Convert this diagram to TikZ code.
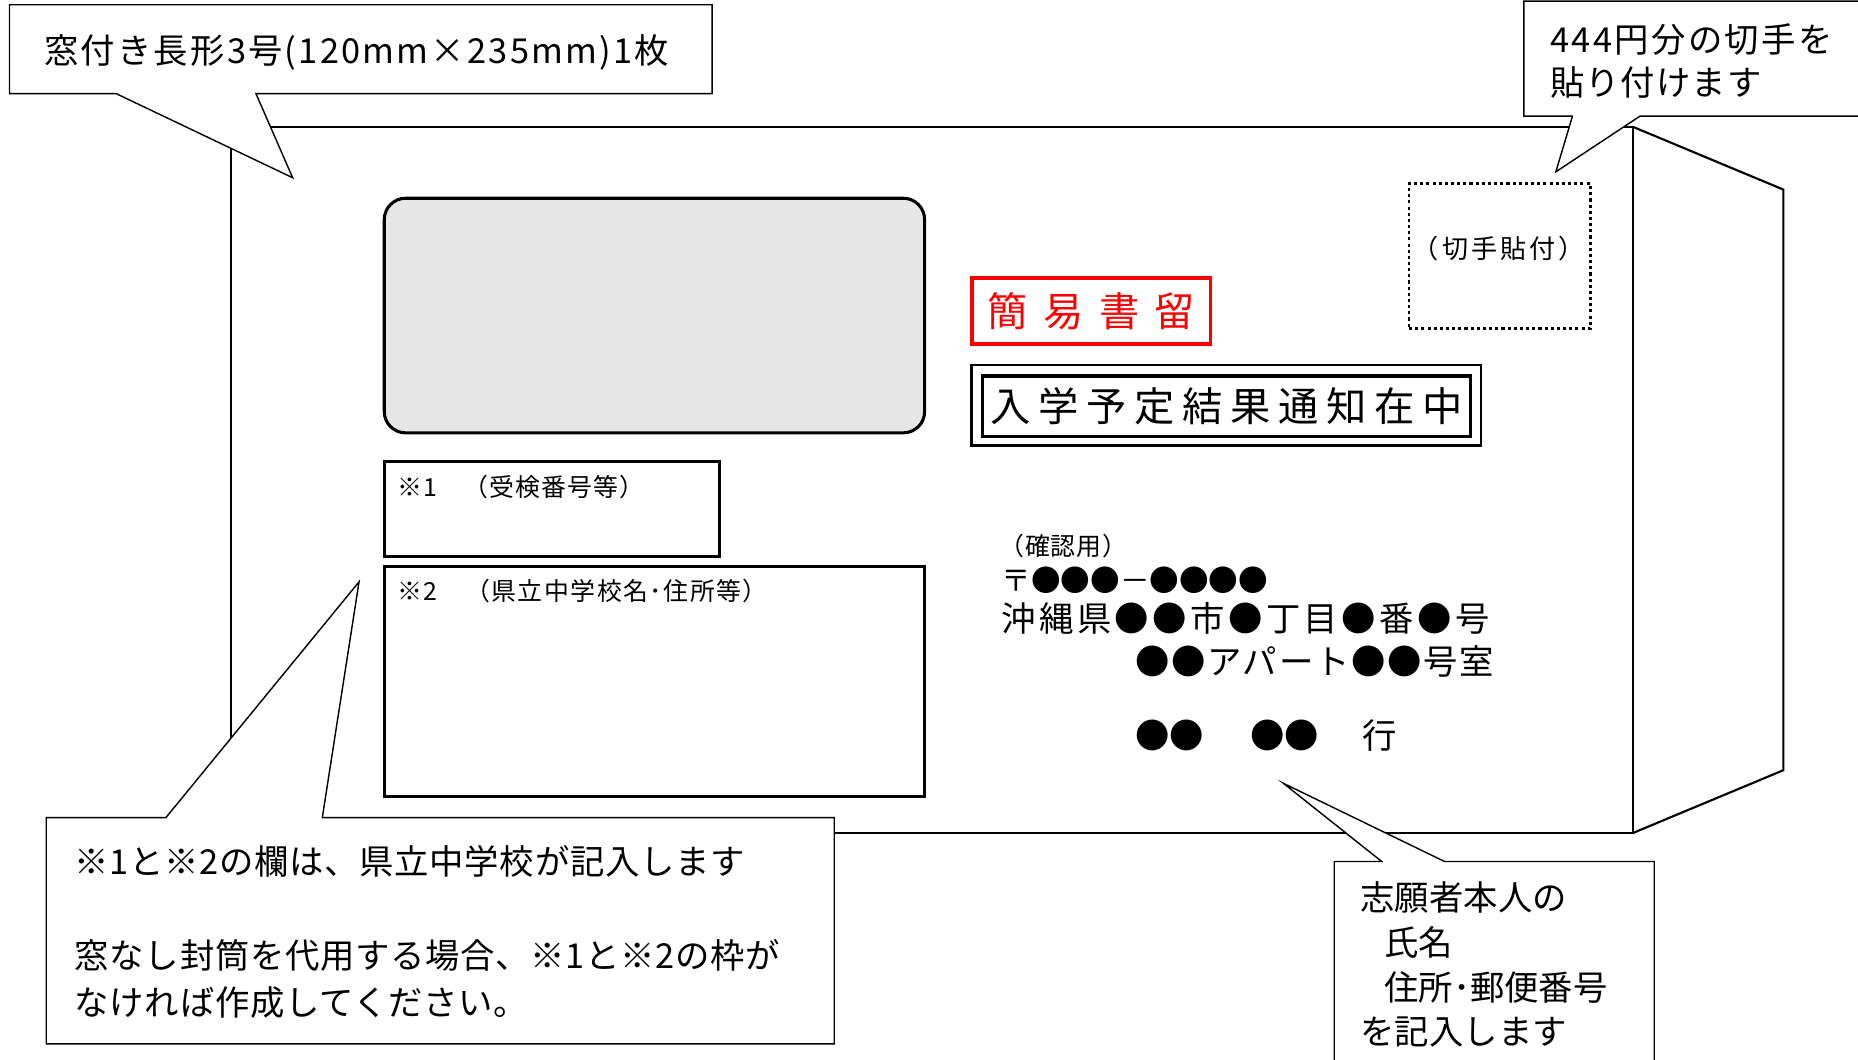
\documentclass[tikz,border=0pt]{standalone}
\usepackage{fontspec}
\setmainfont{Noto Sans CJK JP}
\definecolor{winfill}{HTML}{E6E6E6}
\definecolor{stampred}{HTML}{FF0000}
\begin{document}
\begin{tikzpicture}[x=1pt,y=-1pt,
  env/.style={draw=black,line width=1.8pt},
  callout/.style={draw=black,line width=1.2pt,fill=white,line join=miter},
  fbox/.style={draw=black,line width=2.6pt,anchor=north west,inner sep=0pt},
  cotext/.style={anchor=west,inner sep=0pt,font=\fontsize{29}{36}\selectfont},
  mtext/.style={anchor=west,inner sep=0pt,font=\fontsize{21}{26}\selectfont},
  adtext/.style={anchor=west,inner sep=0pt,font=\fontsize{29}{36}\selectfont}]
\useasboundingbox (0,0) rectangle (1568,894);
\fill[white] (0,0) rectangle (1568,894);
\begin{scope}
\clip (0,0) rectangle (1568,894);
% envelope
\draw[env] (195,107) rectangle (1378,703);
\draw[env,line join=miter] (1378,107) -- (1505,160) -- (1505,650) -- (1378,703);
% window
\node[fbox,fill=winfill,rounded corners=18pt,minimum width=456pt,minimum height=198pt] (win) at (323,166) {};
% boxes 1 and 2
\node[fbox,minimum width=283pt,minimum height=80pt] (box1) at (323,388) {};
\node[mtext] (box1t) at (335,411) {\addfontfeatures{LetterSpace=4}※1　（受検番号等）};
\node[fbox,minimum width=456pt,minimum height=194pt] (box2) at (323,477) {};
\node[mtext] (box2t) at (335,499) {\addfontfeatures{LetterSpace=6}※2　（県立中学校名･住所等）};
% simple registered mail
\node[fbox,draw=stampred,line width=3.2pt,minimum width=201pt,minimum height=56pt] (kanni) at (819,233) {};
\node[inner sep=0pt,text=stampred,font=\fontsize{34}{40}\selectfont] (kannit) at (kanni.center) {簡\kern13pt 易\kern13pt 書\kern13pt 留};
% notice enclosed
\node[fbox,line width=2pt,minimum width=430pt,minimum height=68pt] (noticeo) at (819,307) {};
\node[fbox,line width=2.6pt,minimum width=412pt,minimum height=51pt] (noticei) at (828,316) {};
\node[inner sep=0pt,font=\fontsize{34}{40}\selectfont] (noticet) at (noticei.center) {入\kern6.5pt 学\kern6.5pt 予\kern6.5pt 定\kern6.5pt 結\kern6.5pt 果\kern6.5pt 通\kern6.5pt 知\kern6.5pt 在\kern6.5pt 中};
% stamp area
\node[fbox,line width=2.2pt,dash pattern=on 2.6pt off 2.6pt,minimum width=153pt,minimum height=122pt] (stamp) at (1188,154) {};
\node[inner sep=0pt,font=\fontsize{22}{26}\selectfont] (stampt) at (1265,210) {\addfontfeatures{LetterSpace=12}（切手貼付）};
% address
\node[mtext] (ad0) at (843,461) {\addfontfeatures{LetterSpace=4}（確認用）};
\node[anchor=west,inner sep=0pt,font=\fontsize{25}{30}\selectfont] (ad1) at (845,490) {〒●●●－●●●●};
\node[adtext] (ad2) at (845,522) {\addfontfeatures{LetterSpace=10}沖縄県●●市●丁目●番●号};
\node[adtext] (ad3) at (958,558) {\addfontfeatures{LetterSpace=5}●●アパート●●号室};
\node[adtext] (ad4a) at (958,621) {●●};
\node[adtext] (ad4b) at (1055,621) {●●};
\node[adtext] (ad4c) at (1150,621) {行};
% callout: envelope type
\draw[callout] (8,4) -- (601,4) -- (601,79) -- (216,79) -- (247,150) -- (98,79) -- (8,79) -- cycle;
\node[cotext] (c1) at (37,44) {\addfontfeatures{LetterSpace=6.5}窓付き長形3号(120mm×235mm)1枚};
% callout: stamp
\draw[callout] (1286,1) -- (1590,1) -- (1590,98) -- (1384,98) -- (1313,145) -- (1327,98) -- (1286,98) -- cycle;
\node[cotext] (c2a) at (1308,33) {\addfontfeatures{LetterSpace=7}444円分の切手を};
\node[cotext] (c2b) at (1308,70) {\addfontfeatures{LetterSpace=3}貼り付けます};
% callout: boxes 1 and 2
\draw[callout] (39,690) -- (140,690) -- (303,491) -- (272,690) -- (704,690) -- (704,881) -- (39,881) -- cycle;
\node[cotext] (c3a) at (63,727) {\addfontfeatures{LetterSpace=2}※1と※2の欄は、県立中学校が記入します};
\node[cotext] (c3b) at (63,806) {\addfontfeatures{LetterSpace=2}窓なし封筒を代用する場合、※1と※2の枠が};
\node[cotext] (c3c) at (63,846) {\addfontfeatures{LetterSpace=2}なければ作成してください。};
% callout: applicant
\draw[callout] (1126,727) -- (1166,727) -- (1083,661) -- (1219,727) -- (1396,727) -- (1396,910) -- (1126,910) -- cycle;
\node[cotext] (c4a) at (1148,757) {志願者本人の};
\node[cotext] (c4b) at (1168,795) {氏名};
\node[cotext] (c4c) at (1168,833) {住所･郵便番号};
\node[cotext] (c4d) at (1148,871) {を記入します};
\end{scope}
\end{tikzpicture}
\end{document}
